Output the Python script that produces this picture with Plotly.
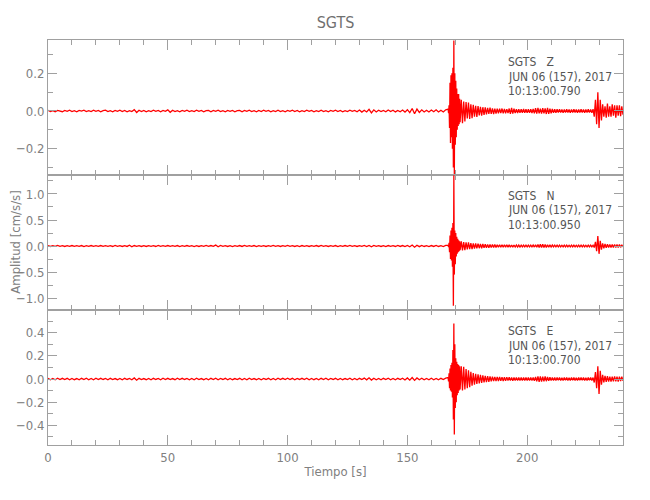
import numpy as np
import plotly.graph_objects as go
from plotly.subplots import make_subplots

# ---------------- data ----------------
station = "SGTS"
components = ["Z", "N", "E"]
start_date = "JUN 06 (157), 2017"
start_times = ["10:13:00.790", "10:13:00.950", "10:13:00.700"]
y_ranges = [[-0.34, 0.377], [-1.23, 1.365], [-0.57, 0.596]]
y_dticks = [0.2, 0.5, 0.2]
y_minor = [0.1, 0.25, 0.1]

t_pre = np.arange(0, 167, 1.0)              # 0 .. 166 s   (167 samples)
t_main = 167.0 + 0.2 * np.arange(26)        # 167.0 .. 172.0 s (26)
t_coda = 172.5 + 0.5 * np.arange(110)       # 172.5 .. 227.0 s (110)
t_tail = 227.5 + 0.5 * np.arange(26)        # 227.5 .. 240 s (26)

Z_pre = [
    0.004, -0.003, 0.002, -0.004, 0.003, 0.001, -0.004, 0.003, -0.002, 0.004,
    -0.003, 0.002, -0.004, 0.003, -0.001, 0.004, -0.003, 0.002, -0.003, 0.004,
    -0.002, 0.003, -0.004, 0.002, 0.004, -0.003, 0.002, -0.004, 0.003, -0.002,
    0.004, -0.003, 0.003, -0.004, 0.002, -0.003, 0.007, -0.008, 0.004, -0.003,
    0.003, -0.004, 0.002, -0.003, 0.004, -0.002, 0.003, -0.004, 0.003, -0.002,
    0.006, -0.007, 0.004, -0.003, 0.002, -0.004, 0.003, -0.002, 0.004, -0.003,
    0.002, -0.003, 0.004, -0.002, 0.003, -0.004, 0.002, 0.003, -0.004, 0.003,
    -0.002, 0.004, -0.003, 0.002, -0.004, 0.003, -0.002, 0.003, -0.004, 0.002,
    0.003, -0.004, 0.003, -0.002, 0.004, -0.003, 0.002, -0.004, 0.003, -0.003,
    0.004, -0.002, 0.003, -0.004, 0.002, -0.003, 0.004, -0.003, 0.002, -0.004,
    0.003, -0.002, 0.004, -0.003, 0.003, -0.004, 0.002, -0.003, 0.004, -0.002,
    0.003, -0.004, 0.002, -0.003, 0.004, -0.003, 0.002, -0.004, 0.003, -0.002,
    0.004, -0.003, 0.003, -0.004, 0.002, -0.003, 0.004, -0.002, 0.003, -0.004,
    0.005, -0.006, 0.004, -0.005, 0.009, -0.010, 0.006, -0.005, 0.004, -0.003,
    0.003, -0.004, 0.005, -0.003, 0.004, -0.005, 0.003, -0.004, 0.005, -0.006,
    0.007, -0.009, 0.013, -0.015, 0.010, -0.008, 0.006, -0.005, 0.004, -0.005,
    0.005, -0.004, 0.006, -0.005, 0.004, -0.005, 0.006,
]
Z_main = [0.010, -0.012, 0.030, -0.090, 0.150, -0.170, 0.190, -0.140, 0.200, -0.200,
          0.230, -0.300, 0.375, -0.338, 0.200, -0.180, 0.160, -0.140, 0.120, -0.100,
          0.090, -0.080, 0.090, -0.070, 0.065, -0.060]
Z_coda = [
    0.060, -0.065, 0.050, -0.055, 0.048, -0.040, 0.045, -0.042, 0.036, -0.038,
    0.033, -0.030, 0.028, -0.032, 0.026, -0.024, 0.022, -0.025, 0.020, -0.021,
    0.019, -0.018, 0.017, -0.016, 0.018, -0.015, 0.014, -0.016, 0.013, -0.014,
    0.012, -0.013, 0.012, -0.011, 0.013, -0.012, 0.011, -0.012, 0.010, -0.011,
    0.013, -0.015, 0.017, -0.014, 0.012, -0.011, 0.010, -0.011, 0.009, -0.010,
    0.010, -0.009, 0.011, -0.010, 0.009, -0.010, 0.010, -0.009, 0.010, -0.011,
    0.011, -0.013, 0.015, -0.014, 0.016, -0.013, 0.012, -0.014, 0.015, -0.013,
    0.014, -0.016, 0.017, -0.015, 0.013, -0.012, 0.011, -0.010, 0.009, -0.010,
    0.009, -0.008, 0.009, -0.008, 0.008, -0.009, 0.008, -0.008, 0.009, -0.008,
    0.008, -0.009, 0.008, -0.008, 0.009, -0.008, 0.008, -0.009, 0.008, -0.008,
    0.009, -0.008, 0.008, -0.009, 0.008, -0.008, 0.009, -0.008, 0.008, -0.009,
]
Z_tail = [0.010, -0.030, 0.060, -0.070, 0.100, -0.090, 0.060, -0.050, 0.035, -0.030,
          0.025, -0.035, 0.040, -0.030, 0.025, -0.030, 0.035, -0.025, 0.030, -0.035,
          0.030, -0.025, 0.030, -0.028, 0.025, -0.020]

N_pre = [
    0.008, -0.009, 0.006, -0.008, 0.010, -0.007, 0.008, -0.009, 0.006, -0.008,
    0.009, -0.007, 0.008, -0.006, 0.009, -0.010, 0.007, -0.008, 0.009, -0.007,
    0.006, -0.008, 0.009, -0.008, 0.007, -0.006, 0.008, -0.009, 0.010, -0.007,
    0.008, -0.009, 0.007, -0.008, 0.014, -0.016, 0.009, -0.007, 0.008, -0.009,
    0.007, -0.009, 0.008, -0.006, 0.008, -0.009, 0.010, -0.007, 0.006, -0.008,
    0.009, -0.008, 0.007, -0.008, 0.009, -0.010, 0.006, -0.007, 0.009, -0.008,
    0.008, -0.010, 0.007, -0.009, 0.006, -0.008, 0.010, -0.007, 0.009, -0.006,
    0.018, -0.016, 0.010, -0.008, 0.007, -0.009, 0.008, -0.010, 0.006, -0.007,
    0.009, -0.008, 0.010, -0.007, 0.008, -0.006, 0.009, -0.010, 0.007, -0.008,
    0.006, -0.009, 0.008, -0.007, 0.010, -0.008, 0.007, -0.009, 0.008, -0.006,
    0.010, -0.008, 0.007, -0.009, 0.006, -0.010, 0.009, -0.007, 0.008, -0.009,
    0.007, -0.006, 0.009, -0.008, 0.010, -0.007, 0.008, -0.009, 0.006, -0.008,
    0.009, -0.010, 0.007, -0.008, 0.009, -0.006, 0.010, -0.008, 0.007, -0.009,
    0.008, -0.007, 0.010, -0.009, 0.012, -0.014, 0.010, -0.008, 0.007, -0.009,
    0.008, -0.010, 0.009, -0.007, 0.008, -0.009, 0.010, -0.008, 0.009, -0.010,
    0.012, -0.014, 0.020, -0.022, 0.016, -0.012, 0.010, -0.009, 0.008, -0.010,
    0.009, -0.008, 0.010, -0.009, 0.008, -0.010, 0.011,
]
N_main = [0.015, -0.020, 0.060, -0.120, 0.200, -0.250, 0.300, -0.280, 0.350, -0.400,
          0.440, -1.150, 1.360, -0.550, 0.300, -0.350, 0.250, -0.200, 0.180, -0.150,
          0.140, -0.120, 0.110, -0.100, 0.090, -0.080]
N_coda = [
    0.090, -0.085, 0.075, -0.080, 0.070, -0.065, 0.068, -0.060, 0.055, -0.058,
    0.052, -0.050, 0.048, -0.045, 0.046, -0.042, 0.040, -0.043, 0.038, -0.036,
    0.035, -0.034, 0.032, -0.033, 0.030, -0.031, 0.029, -0.028, 0.027, -0.028,
    0.026, -0.025, 0.026, -0.024, 0.025, -0.023, 0.024, -0.022, 0.023, -0.022,
    0.022, -0.021, 0.020, -0.021, 0.020, -0.019, 0.019, -0.020, 0.018, -0.019,
    0.018, -0.017, 0.018, -0.017, 0.017, -0.018, 0.016, -0.017, 0.018, -0.017,
    0.018, -0.020, 0.022, -0.025, 0.028, -0.030, 0.032, -0.030, 0.034, -0.031,
    0.028, -0.030, 0.026, -0.024, 0.021, -0.019, 0.018, -0.017, 0.016, -0.017,
    0.016, -0.015, 0.016, -0.017, 0.015, -0.016, 0.016, -0.015, 0.017, -0.016,
    0.015, -0.016, 0.016, -0.015, 0.016, -0.016, 0.015, -0.016, 0.016, -0.015,
    0.016, -0.015, 0.016, -0.016, 0.015, -0.016, 0.016, -0.015, 0.016, -0.016,
]
N_tail = [0.015, -0.030, 0.080, -0.100, 0.190, -0.150, 0.100, -0.070, 0.050, -0.045,
          0.040, -0.035, 0.035, -0.030, 0.030, -0.030, 0.028, -0.030, 0.030, -0.028,
          0.030, -0.027, 0.028, -0.026, 0.025, -0.020]

E_pre = [
    0.006, -0.007, 0.005, -0.006, 0.007, -0.005, 0.006, -0.004, 0.006, -0.007,
    0.005, -0.006, 0.004, -0.007, 0.006, -0.005, 0.007, -0.006, 0.005, -0.006,
    0.007, -0.005, 0.006, -0.004, 0.005, -0.007, 0.006, -0.005, 0.004, -0.006,
    0.005, -0.007, 0.006, -0.004, 0.005, -0.006, 0.009, -0.010, 0.006, -0.005,
    0.004, -0.006, 0.005, -0.007, 0.006, -0.004, 0.005, -0.006, 0.007, -0.005,
    0.006, -0.005, 0.004, -0.006, 0.007, -0.005, 0.006, -0.004, 0.005, -0.007,
    0.005, -0.006, 0.007, -0.005, 0.004, -0.006, 0.005, -0.007, 0.006, -0.005,
    0.007, -0.006, 0.005, -0.004, 0.006, -0.007, 0.005, -0.006, 0.004, -0.005,
    0.006, -0.007, 0.005, -0.006, 0.007, -0.005, 0.004, -0.006, 0.005, -0.007,
    0.005, -0.004, 0.006, -0.007, 0.005, -0.006, 0.007, -0.005, 0.006, -0.004,
    0.007, -0.005, 0.006, -0.007, 0.005, -0.004, 0.006, -0.005, 0.007, -0.006,
    0.005, -0.006, 0.004, -0.007, 0.006, -0.005, 0.007, -0.006, 0.005, -0.004,
    0.006, -0.007, 0.005, -0.006, 0.004, -0.005, 0.007, -0.006, 0.005, -0.007,
    0.006, -0.005, 0.008, -0.007, 0.010, -0.009, 0.007, -0.006, 0.005, -0.007,
    0.006, -0.005, 0.007, -0.006, 0.005, -0.007, 0.006, -0.005, 0.007, -0.008,
    0.009, -0.010, 0.013, -0.012, 0.009, -0.007, 0.006, -0.007, 0.005, -0.006,
    0.007, -0.006, 0.005, -0.007, 0.006, -0.005, 0.007,
]
E_main = [0.012, -0.020, 0.050, -0.080, 0.090, -0.100, 0.120, -0.110, 0.140, -0.160,
          0.250, -0.350, 0.480, -0.480, 0.300, -0.250, 0.180, -0.200, 0.150, -0.140,
          0.130, -0.120, 0.120, -0.100, 0.110, -0.090]
E_coda = [
    0.110, -0.100, 0.105, -0.090, 0.085, -0.080, 0.075, -0.070, 0.062, -0.058,
    0.052, -0.048, 0.045, -0.042, 0.040, -0.038, 0.035, -0.033, 0.031, -0.030,
    0.028, -0.027, 0.025, -0.024, 0.022, -0.021, 0.020, -0.019, 0.019, -0.018,
    0.018, -0.017, 0.017, -0.016, 0.016, -0.017, 0.015, -0.016, 0.015, -0.014,
    0.015, -0.014, 0.014, -0.015, 0.014, -0.013, 0.014, -0.014, 0.013, -0.014,
    0.013, -0.014, 0.014, -0.013, 0.014, -0.013, 0.013, -0.014, 0.014, -0.013,
    0.014, -0.016, 0.018, -0.020, 0.022, -0.024, 0.022, -0.023, 0.021, -0.020,
    0.022, -0.019, 0.018, -0.016, 0.015, -0.014, 0.013, -0.012, 0.013, -0.012,
    0.012, -0.011, 0.012, -0.012, 0.011, -0.012, 0.012, -0.011, 0.012, -0.012,
    0.011, -0.012, 0.012, -0.011, 0.012, -0.012, 0.011, -0.012, 0.012, -0.011,
    0.012, -0.011, 0.012, -0.012, 0.011, -0.012, 0.012, -0.011, 0.012, -0.012,
]
E_tail = [0.012, -0.030, 0.060, -0.080, 0.110, -0.130, 0.070, -0.050, 0.035, -0.030,
          0.028, -0.025, 0.025, -0.022, 0.020, -0.022, 0.020, -0.020, 0.022, -0.020,
          0.020, -0.022, 0.020, -0.018, 0.020, -0.015]

# ---------------- figure ----------------
t_segments = [t_pre, t_main, t_coda, t_tail]
series = [
    [Z_pre, Z_main, Z_coda, Z_tail],
    [N_pre, N_main, N_coda, N_tail],
    [E_pre, E_main, E_coda, E_tail],
]

AX = "#a0a0a0"
TXT = "#808080"
FONT = "Liberation Sans Narrow, DejaVu Sans Condensed, Arial Narrow, sans-serif"

# the page body has an 8px margin, so the figure is 8px smaller each way
W, H = 642, 492
fig = make_subplots(rows=3, cols=1, shared_xaxes=True, vertical_spacing=0)

for i, segs in enumerate(series):
    xs, ys = [], []
    for tseg, vseg in zip(t_segments, segs):
        n = min(len(tseg), len(vseg))
        xs.extend(tseg[:n].tolist())
        ys.extend(vseg[:n])
    fig.add_trace(go.Scatter(x=xs, y=ys, mode="lines",
                             line=dict(color="#ff0000", width=1.3),
                             showlegend=False, hoverinfo="skip"),
                  row=i + 1, col=1)
    fig.update_yaxes(range=y_ranges[i], dtick=y_dticks[i], tick0=0,
                     tickformat=".1f", ticks="inside", ticklen=9,
                     tickcolor=AX, linecolor=AX, showline=True, mirror="allticks",
                     showgrid=False, zeroline=False, automargin=False,
                     minor=dict(ticks="inside", dtick=y_minor[i], tick0=0,
                                ticklen=5, tickcolor=AX),
                     tickfont=dict(family=FONT, size=13, color=TXT),
                     row=i + 1, col=1)
    fig.update_xaxes(range=[0, 240], dtick=50, tick0=0, ticks="inside", ticklen=10,
                     tickcolor=AX, linecolor=AX, showline=True, mirror="allticks",
                     showgrid=False, zeroline=False, automargin=False,
                     minor=dict(ticks="inside", dtick=10, tick0=0, ticklen=5,
                                tickcolor=AX),
                     tickfont=dict(family=FONT, size=13, color=TXT),
                     row=i + 1, col=1)
    # station / date / time labels
    top = 1 - i / 3.0
    lines = [f"{station}   {components[i]}", start_date, start_times[i]]
    for k, txt in enumerate(lines):
        fig.add_annotation(x=0.797, xref="paper", xanchor="left",
                           y=top, yref="paper", yanchor="middle",
                           yshift=-(21 + 14.5 * k) - (1 if i == 0 else 0),
                           text=txt, showarrow=False,
                           font=dict(family=FONT, size=12, color="#555555"))

fig.update_xaxes(title=dict(text="Tiempo [s]", standoff=3,
                            font=dict(family=FONT, size=13, color=TXT)),
                 row=3, col=1)

fig.add_annotation(x=-0.057, xref="paper", xanchor="center",
                   y=0.5, yref="paper", yanchor="middle", textangle=-90,
                   text="Amplitud [cm/s/s]", showarrow=False,
                   font=dict(family=FONT, size=13, color=TXT))

fig.update_layout(
    width=W, height=H,
    margin=dict(l=40, r=27, t=32, b=55),
    paper_bgcolor="white", plot_bgcolor="white",
    title=dict(text=station, x=0.5, xref="paper", y=1 - 14 / H, yref="container",
               yanchor="middle",
               font=dict(family=FONT, size=16, color="#707070")),
)

fig.write_html("out.html")
